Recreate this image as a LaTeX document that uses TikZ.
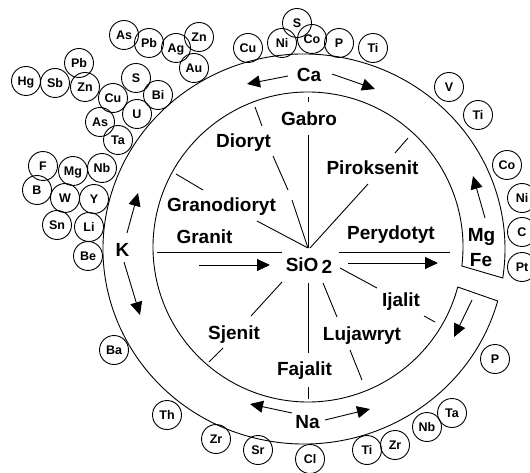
\documentclass[tikz,border=0pt]{standalone}
\usepackage{fontspec}
\setmainfont{Liberation Sans}
\usetikzlibrary{arrows.meta,calc}
\tikzset{
  lbl/.style={font=\fontsize{19bp}{19bp}\selectfont\bfseries, inner sep=0pt, anchor=base},
  elem/.style={circle, draw, line width=0.9bp, minimum size=29bp, inner sep=0pt,
    text height=9bp, text depth=0pt, font=\fontsize{12.5bp}{12.5bp}\selectfont\bfseries},
  flow/.style={line width=0.9bp, -{Triangle[length=13bp,width=12bp]}},
  band/.style={line width=0.9bp},
  spoke/.style={line width=0.9bp}
}
\begin{document}
\begin{tikzpicture}[x=1bp, y=-1bp]
\useasboundingbox (0,0) rectangle (530,473);
\clip (0,0) rectangle (530,473);

% centres of the inner circle and of the outer rim
\coordinate (ci) at (308,247);
\coordinate (co) at (304,249);

% the ring band, open on the right between the two end caps
\draw[band] ($(ci)+(14.96:155)$) -- ($(co)+(15.47:201 and 195)$)
  arc[start angle=15.47, end angle=368.55, x radius=201, y radius=195]
  -- ($(ci)+(367.04:155)$)
  arc[start angle=367.04, end angle=14.96, radius=155];

% labels of the rock families
\node[lbl] (ca) at (309,81.5) {Ca};
\node[lbl] (k) at (122.5,256.5) {K};
\node[lbl] (na) at (307.5,428.5) {Na};
\node[lbl] (mg) at (481.5,241.5) {Mg};
\node[lbl] (fe) at (481,266) {Fe};
\node[lbl] (gabro) at (309,125.5) {Gabro};
\node[lbl] (dioryt) at (243.5,148) {Dioryt};
\node[lbl] (granodioryt) at (221.5,211.5) {Granodioryt};
\node[lbl] (granit) at (204.5,243.5) {Granit};
\node[lbl] (piroksenit) at (372.5,175) {Piroksenit};
\node[lbl] (perydotyt) at (391,240) {Perydotyt};
\node[lbl] (sio) at (309,271.5) {SiO\,\raisebox{-1.5bp}{2}};
\node[lbl] (ijalit) at (401,306.5) {Ijalit};
\node[lbl] (lujawryt) at (362,340) {Lujawryt};
\node[lbl] (fajalit) at (304.5,375.5) {Fajalit};
\node[lbl] (sjenit) at (234,339) {Sjenit};

% spokes from SiO2 out to the inner circle
\draw[spoke] (308,97) -- (308,102.5);
\draw[spoke] (308,135) -- (308,248);
\draw[spoke] (255,107) -- (262,126);
\draw[spoke] (273,156) -- (288,190);
\draw[spoke] (292,200) -- (308,248);
\draw[spoke] (176,174) -- (203,190);
\draw[spoke] (257,221) -- (308,248);
\draw[spoke] (157,252) -- (282,252);
\draw[spoke] (395,153) -- (408,138);
\draw[spoke] (368,184) -- (310,248);
\draw[spoke] (339,252) -- (450,252);
\draw[spoke] (340,268) -- (377,288);
\draw[spoke] (424,316) -- (435,322);
\draw[spoke] (323,283) -- (337,317);
\draw[spoke] (350,350) -- (362,380);
\draw[spoke] (308,283) -- (308,353);
\draw[spoke] (308,387) -- (308,399);
\draw[spoke] (282,282) -- (251,316);
\draw[spoke] (223,348) -- (209,362);

% direction arrows
\coordinate (caL0) at (288,76);  \coordinate (caL1) at (247,84);
\coordinate (caR0) at (332,74);  \coordinate (caR1) at (375,89);
\coordinate (mg0) at (485,218);  \coordinate (mg1) at (473,176);
\coordinate (kU0) at (127,233);  \coordinate (kU1) at (138,193);
\coordinate (kD0) at (124,262);  \coordinate (kD1) at (140,315);
\coordinate (cut0) at (472,300); \coordinate (cut1) at (454,337);
\coordinate (naL0) at (292,413); \coordinate (naL1) at (250,404);
\coordinate (naR0) at (325,420); \coordinate (naR1) at (370,409);
\coordinate (in0) at (199,265);  \coordinate (in1) at (270,265);
\coordinate (out0) at (348,263); \coordinate (out1) at (438,263);
\draw[flow] (caL0) -- (caL1);
\draw[flow] (caR0) -- (caR1);
\draw[flow] (mg0) -- (mg1);
\draw[flow] (kU0) -- (kU1);
\draw[flow] (kD0) -- (kD1);
\draw[flow] (cut0) -- (cut1);
\draw[flow] (naL0) -- (naL1);
\draw[flow] (naR0) -- (naR1);
\draw[flow] (in0) -- (in1);
\draw[flow] (out0) -- (out1);

% element circles
\foreach \t/\x/\y [count=\i] in {
  As/124/35, Pb/149/43, Ag/176/48, Zn/199/37, Au/194/68,
  Cu/248/48, Ni/282/43, S/297/23, Co/312/39, P/339/43, Ti/373/48,
  Pb/79/63, Hg/26/81, Sb/55/83, Zn/85/87, S/136/78, Cu/113/98,
  Bi/158/95, U/137/114, As/100/122, Ta/118/140,
  F/43/166, Mg/73/171, Nb/102/168, B/37/190, W/65/198, Y/94/199,
  Sn/57/225, Li/89/227, Be/88/256,
  Ba/114/350, Th/167/415, Zr/216/439, Sr/258/450, Cl/310/459,
  Ti/367/450, Zr/395/445, Nb/427/427, Ta/452/413, P/495/359,
  V/449/87, Ti/478/115, Co/507/165, Ni/522/198, C/522/232, Pt/522/267}
  \node[elem] (el\i) at (\x,\y) {\t};
\end{tikzpicture}
\end{document}
